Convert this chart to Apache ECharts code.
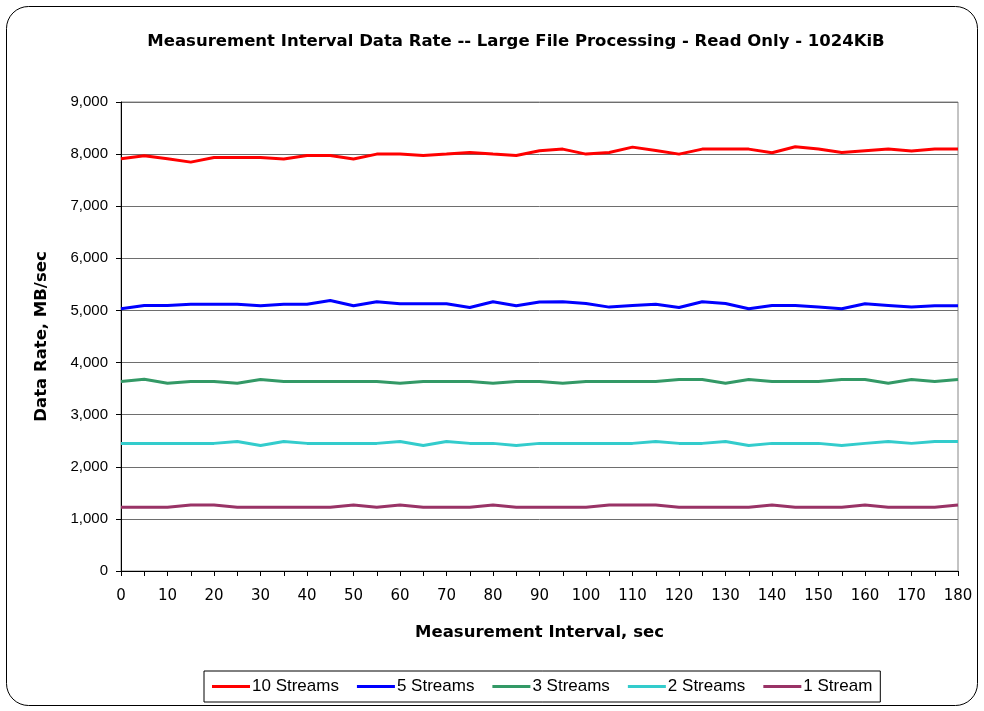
<!DOCTYPE html>
<html><head><meta charset="utf-8">
<script src="https://cdn.jsdelivr.net/npm/echarts@6/dist/echarts.min.js"></script>
<style>html,body{margin:0;padding:0;background:#fff}#c{width:984px;height:711px}</style>
</head><body><div id="c"></div>
<script>
const intervals = [0,5,10,15,20,25,30,35,40,45,50,55,60,65,70,75,80,85,90,95,100,105,110,115,120,125,130,135,140,145,150,155,160,165,170,175,180];
const streams10 = [7910,7970,7910,7846,7935,7935,7935,7905,7975,7975,7905,8000,8000,7975,8000,8030,8000,7975,8065,8096,8000,8032,8134,8070,8000,8096,8096,8096,8025,8140,8100,8032,8064,8096,8058,8096,8096];
const streams5 = [5032,5096,5096,5120,5120,5120,5090,5120,5120,5192,5090,5166,5128,5128,5128,5058,5166,5090,5163,5166,5134,5064,5096,5120,5058,5166,5134,5032,5096,5096,5064,5032,5128,5096,5064,5090,5090];
const streams3 = [3635,3680,3603,3635,3635,3603,3673,3635,3635,3635,3635,3635,3603,3635,3635,3635,3603,3635,3635,3603,3635,3635,3635,3635,3673,3673,3603,3673,3635,3635,3635,3673,3673,3603,3673,3635,3673];
const streams2 = [2449,2449,2449,2449,2449,2487,2410,2487,2449,2449,2449,2449,2487,2410,2487,2449,2449,2410,2449,2449,2449,2449,2449,2487,2449,2449,2487,2410,2449,2449,2449,2410,2449,2487,2449,2487,2487];
const streams1 = [1225,1225,1225,1265,1265,1225,1225,1225,1225,1225,1265,1225,1265,1225,1225,1225,1265,1225,1225,1225,1225,1265,1265,1265,1225,1225,1225,1225,1265,1225,1225,1225,1265,1225,1225,1225,1265];
const seriesNames = ['10 Streams','5 Streams','3 Streams','2 Streams','1 Stream'];
const seriesColors = ['#ff0000','#0000ff','#339966','#33cccc','#993366'];
const yTicks = [0,1000,2000,3000,4000,5000,6000,7000,8000,9000];
const titleText = 'Measurement Interval Data Rate -- Large File Processing - Read Only - 1024KiB';

const allData = [streams10, streams5, streams3, streams2, streams1];
const chart = echarts.init(document.getElementById('c'), null, {renderer:'canvas'});
const font = 'Liberation Sans, Arial, sans-serif';
const wide = 'DejaVu Sans, sans-serif';
chart.setOption({
  animation:false,
  backgroundColor:'#fff',
  graphic:[{type:'rect', shape:{x:6.5,y:6.5,width:971,height:699,r:22}, style:{fill:'none', stroke:'#000', lineWidth:1}, z:-1}],
  title:{text:titleText, left:511, textAlign:'center', top:28, textStyle:{fontFamily:wide, fontWeight:'bold', fontSize:16.5, color:'#000'}},
  legend:{
    data:seriesNames, left:204, top:671, orient:'horizontal',
    borderColor:'#000', borderWidth:1, padding:[7,8,7,8], itemGap:18,
    itemWidth:38, itemHeight:3, icon:'rect',
    textStyle:{fontFamily:font, fontSize:17, color:'#000', padding:[0,0,0,-3]}
  },
  grid:{left:121, right:26, top:102, bottom:140, show:true, borderColor:'#888', borderWidth:1, containLabel:false},
  xAxis:{
    type:'value', min:0, max:180, interval:5,
    name:'Measurement Interval, sec', nameLocation:'middle', nameGap:53,
    nameTextStyle:{fontFamily:wide, fontWeight:'bold', fontSize:16.5, color:'#000'},
    axisLine:{lineStyle:{color:'#000', width:1}},
    axisTick:{show:true, length:5, lineStyle:{color:'#000'}},
    axisLabel:{fontFamily:wide, fontSize:15, color:'#000', margin:18, formatter:v => (v % 10 === 0 ? String(v) : '')},
    splitLine:{show:false}
  },
  yAxis:{
    type:'value', min:yTicks[0], max:yTicks[yTicks.length-1], interval:1000,
    name:'Data Rate, MB/sec', nameLocation:'middle', nameGap:71,
    nameTextStyle:{fontFamily:wide, fontWeight:'bold', fontSize:16.5, color:'#000'},
    axisLine:{show:true, lineStyle:{color:'#000', width:1}},
    axisTick:{show:true, length:5, lineStyle:{color:'#000'}},
    axisLabel:{fontFamily:font, fontSize:15, color:'#000', margin:13, formatter:v => v.toLocaleString('en-US')},
    splitLine:{show:true, lineStyle:{color:'#6e6e6e', width:1}}
  },
  series: seriesNames.map((n,i)=>({
    name:n, type:'line', showSymbol:false, symbol:'none',
    data: intervals.map((t,j)=>[t, allData[i][j]]),
    lineStyle:{color:seriesColors[i], width:3}, itemStyle:{color:seriesColors[i]}
  }))
});
</script></body></html>
